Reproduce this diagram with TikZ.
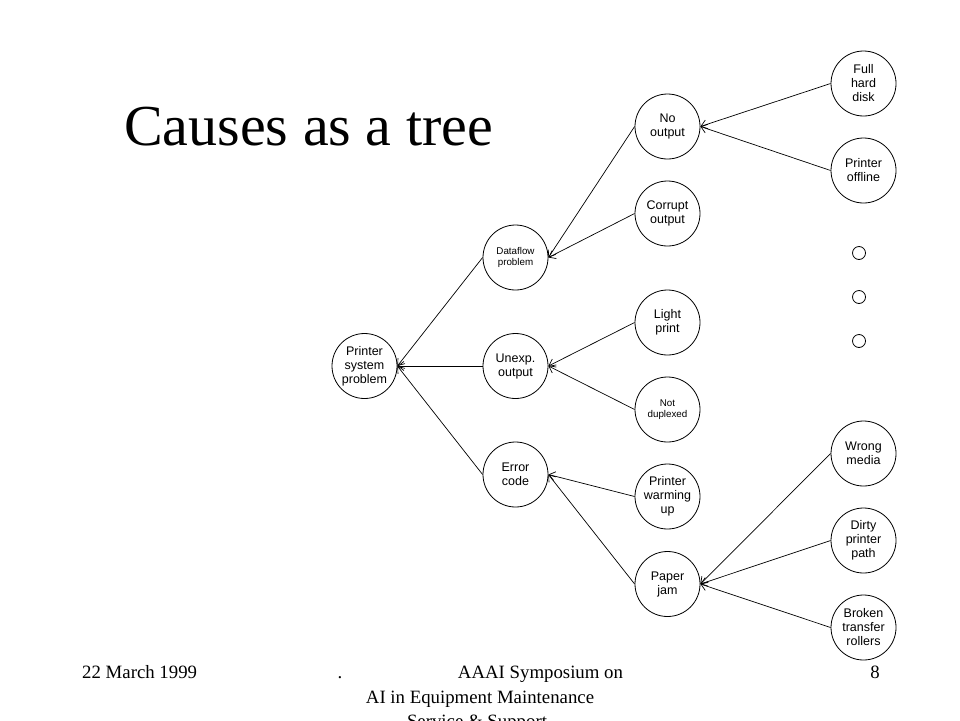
\documentclass[tikz,border=0pt]{standalone}
\usepackage{fontspec}
\setmainfont{Liberation Serif}
\newfontfamily\nodefont{Liberation Sans}
\usetikzlibrary{arrows.meta}
\begin{document}
\begin{tikzpicture}[x=1pt,y=-1pt,
  cnode/.style={circle,draw,line width=0.8pt,minimum size=65pt,inner sep=0pt,align=center,font=\nodefont\fontsize{12.5}{14}\selectfont},
  snode/.style={cnode,font=\nodefont\fontsize{9.8}{10.5}\selectfont},
  smalldot/.style={circle,draw,line width=0.8pt,minimum size=13pt,inner sep=0pt},
  link/.style={draw,line width=0.7pt,-{Straight Barb[length=6pt,width=9pt]}},
  foot/.style={font=\fontsize{18.8}{24}\selectfont,inner sep=0pt}]
\useasboundingbox (0,0) rectangle (960,720);
\fill[white] (0,0) rectangle (960,720);

% title
\node[anchor=base west,inner sep=0pt,font=\fontsize{58}{64}\selectfont] (title) at (124,145) {Causes as a tree};

% level 0
\node[cnode] (psp) at (364.5,366) {Printer\\system\\problem};
% level 1
\node[snode] (dfp) at (515.5,257.5) {Dataflow\\problem};
\node[cnode] (uno) at (515.5,366) {Unexp.\\output};
\node[cnode] (erc) at (515.5,474.5) {Error\\code};
% level 2
\node[cnode] (noo) at (667.5,126.5) {No\\output};
\node[cnode] (coo) at (667.5,213.5) {Corrupt\\output};
\node[cnode] (lip) at (667.5,322.5) {Light\\print};
\node[snode] (ndu) at (667.5,409.5) {Not\\duplexed};
\node[cnode] (pwu) at (667.5,496.5) {Printer\\warming\\up};
\node[cnode] (pjm) at (667.5,584) {Paper\\jam};
% level 3
\node[cnode] (fhd) at (863.5,83.5) {Full\\hard\\disk};
\node[cnode] (pof) at (863.5,170.5) {Printer\\offline};
\node[smalldot] (d1) at (859,253) {};
\node[smalldot] (d2) at (859,297) {};
\node[smalldot] (d3) at (859,341) {};
\node[cnode] (wme) at (863.5,453.5) {Wrong\\media};
\node[cnode] (dpp) at (863.5,540.5) {Dirty\\printer\\path};
\node[cnode] (btr) at (863.5,627.5) {Broken\\transfer\\rollers};

% connectors (child -> parent)
\draw[link] (dfp.west) -- (psp.east);
\draw[link] (uno.west) -- (psp.east);
\draw[link] (erc.west) -- (psp.east);
\draw[link] (noo.west) -- (dfp.east);
\draw[link] (coo.west) -- (dfp.east);
\draw[link] (lip.west) -- (uno.east);
\draw[link] (ndu.west) -- (uno.east);
\draw[link] (pwu.west) -- (erc.east);
\draw[link] (pjm.west) -- (erc.east);
\draw[link] (fhd.west) -- (noo.east);
\draw[link] (pof.west) -- (noo.east);
\draw[link] (wme.west) -- (pjm.east);
\draw[link] (dpp.west) -- (pjm.east);
\draw[link] (btr.west) -- (pjm.east);

% footer
\node[foot,anchor=base west] (date) at (82,678) {22 March 1999};
\node[foot,anchor=base] (dot) at (340,678) {.};
\node[foot,anchor=base] (f1) at (540.5,678) {AAAI Symposium on};
\node[foot,anchor=base] (f2) at (480,703) {AI in Equipment Maintenance};
\node[foot,anchor=base] (f3) at (477,727) {Service \& Support};
\node[foot,anchor=base] (pg) at (875,678) {8};
\end{tikzpicture}
\end{document}
